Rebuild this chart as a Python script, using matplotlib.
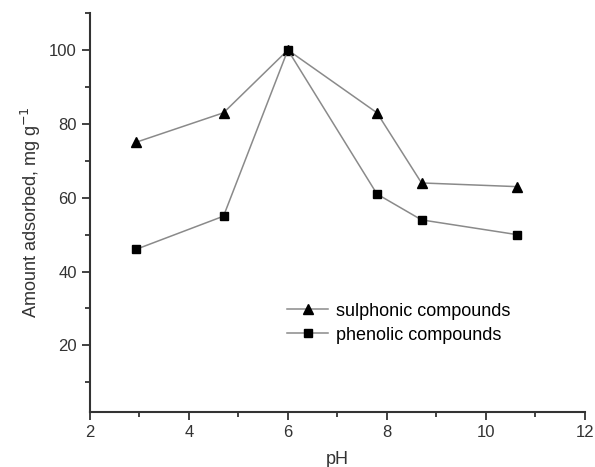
import matplotlib
matplotlib.use("Agg")
import matplotlib.pyplot as plt
from matplotlib.ticker import MultipleLocator

plt.rcParams['font.family'] = ['Liberation Sans', 'DejaVu Sans']

ph_values = [2.93, 4.7, 6.0, 7.8, 8.7, 10.63]
sulphonic = [75, 83, 100, 83, 64, 63]
phenolic = [46, 55, 100, 61, 54, 50]

fig = plt.figure(figsize=(5.95, 4.67), dpi=100)
ax = fig.add_axes([0.151, 0.118, 0.832, 0.854])

ax.plot(ph_values, sulphonic, color='#8a8a8a', lw=1.1, marker='^', ms=7,
        mfc='black', mec='black', label='sulphonic compounds')
ax.plot(ph_values, phenolic, color='#8a8a8a', lw=1.1, marker='s', ms=6,
        mfc='black', mec='black', label='phenolic compounds')

ax.set_xlim(2, 12)
ax.set_ylim(2, 110)
ax.xaxis.set_major_locator(MultipleLocator(2))
ax.xaxis.set_minor_locator(MultipleLocator(1))
ax.set_yticks([20, 40, 60, 80, 100])
ax.yaxis.set_minor_locator(MultipleLocator(10))

for side in ['top', 'right']:
    ax.spines[side].set_visible(False)
for side in ['left', 'bottom']:
    ax.spines[side].set_linewidth(1.5)
    ax.spines[side].set_color('#333333')

ax.tick_params(which='major', direction='out', length=6, width=1.3, labelsize=12, colors='#333333')
ax.tick_params(which='minor', direction='out', length=3.5, width=1.3, colors='#333333')

ax.set_xlabel('pH', fontsize=13, color='#333333', labelpad=8)
ax.set_ylabel('Amount adsorbed, mg g$^{-1}$', fontsize=13, color='#333333', labelpad=4)

ax.legend(loc='lower left', bbox_to_anchor=(0.365, 0.13), frameon=False, fontsize=13,
          handlelength=2.3, handletextpad=0.4, labelspacing=0.4)

fig.savefig('out.png', dpi=100)
